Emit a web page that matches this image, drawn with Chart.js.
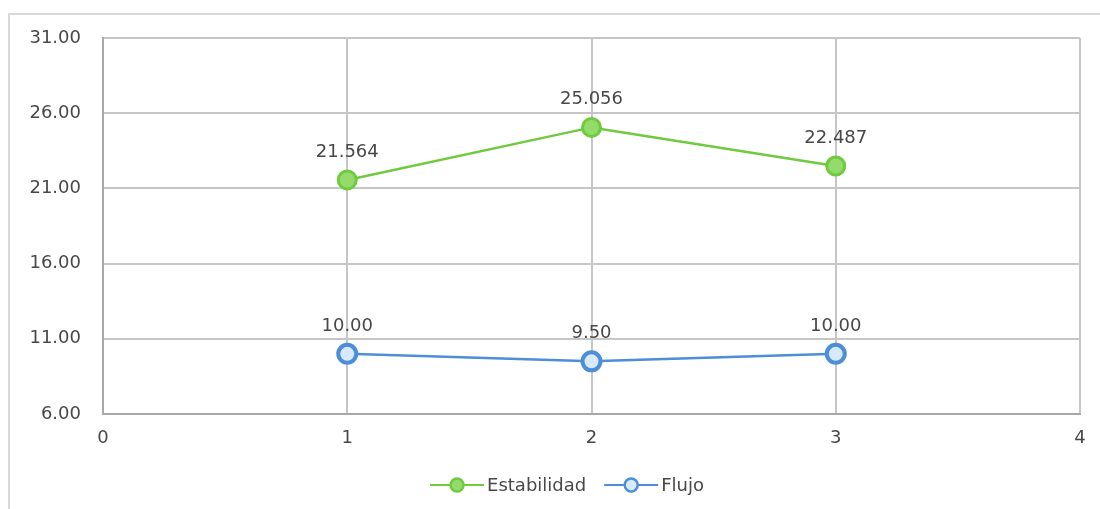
<!DOCTYPE html>
<html>
<head>
<meta charset="utf-8">
<script src="https://cdn.jsdelivr.net/npm/chart.js@4.4.1/dist/chart.umd.min.js"></script>
<style>
  html, body { margin: 0; padding: 0; background: #ffffff; }
  #wrap { position: relative; width: 1100px; height: 509px; overflow: hidden; }
  #frame { position: absolute; left: 8px; top: 13px; width: 1200px; height: 600px;
           border-left: 2px solid #d9d9d9; border-top: 2px solid #d9d9d9; }
  canvas { position: absolute; left: 0; top: 0; }
</style>
</head>
<body>
<div id="wrap">
  <div id="frame"></div>
  <canvas id="c" width="1100" height="509"></canvas>
</div>
<script>
// Sample numbers on the x axis and measured values
const samples = [1, 2, 3];
const estabilidad = [21.564, 25.056, 22.487];
const flujo = [10.00, 9.50, 10.00];
const estabilidadLabels = ['21.564', '25.056', '22.487'];
const flujoLabels = ['10.00', '9.50', '10.00'];
const seriesNames = ['Estabilidad', 'Flujo'];
const yTicks = [6, 11, 16, 21, 26, 31];
const xTicks = [0, 1, 2, 3, 4];

const GREEN = '#6fca3e';
const GREEN_FILL = '#93dc6a';
const BLUE = '#4a8fd8';
const BLUE_FILL = '#d7e9fa';
const FONT = "'DejaVu Sans', sans-serif";
const TEXT = '#484848';
const FONT_SIZE = 18;

function toPoints(xs, ys) { return xs.map((x, i) => ({ x: x, y: ys[i] })); }

// Value labels above each marker
const valueLabels = {
  id: 'valueLabels',
  afterDatasetsDraw(chart) {
    const ctx = chart.ctx;
    ctx.save();
    ctx.font = FONT_SIZE + 'px ' + FONT;
    ctx.fillStyle = TEXT;
    ctx.textAlign = 'center';
    ctx.textBaseline = 'middle';
    chart.data.datasets.forEach((ds, di) => {
      const meta = chart.getDatasetMeta(di);
      meta.data.forEach((pt, i) => {
        ctx.fillText(ds.valueText[i], pt.x, pt.y - 28);
      });
    });
    ctx.restore();
  }
};

// Legend drawn as line–marker–line samples
const lineLegend = {
  id: 'lineLegend',
  afterDraw(chart) {
    const ctx = chart.ctx;
    ctx.save();
    ctx.font = FONT_SIZE + 'px ' + FONT;
    ctx.textBaseline = 'middle';
    const y = 485;
    const items = chart.data.datasets.map(ds => ({
      text: ds.label, color: ds.borderColor, fill: ds.pointBackgroundColor
    }));
    const sampleW = 54, gap = 3, spacing = 18;
    let total = 0;
    items.forEach((it, i) => {
      total += sampleW + gap + ctx.measureText(it.text).width + (i ? spacing : 0);
    });
    let x = 567 - total / 2;
    items.forEach((it, i) => {
      if (i) x += spacing;
      ctx.strokeStyle = it.color;
      ctx.lineWidth = 2;
      ctx.beginPath(); ctx.moveTo(x, y); ctx.lineTo(x + sampleW, y); ctx.stroke();
      ctx.beginPath(); ctx.arc(x + sampleW / 2, y, 6.5, 0, Math.PI * 2);
      ctx.fillStyle = it.fill; ctx.fill();
      ctx.lineWidth = 2.5; ctx.stroke();
      x += sampleW + gap;
      ctx.fillStyle = TEXT;
      ctx.textAlign = 'left';
      ctx.fillText(it.text, x, y + 1);
      x += ctx.measureText(it.text).width;
    });
    ctx.restore();
  }
};

new Chart(document.getElementById('c'), {
  type: 'line',
  data: {
    datasets: [
      {
        label: seriesNames[0],
        data: toPoints(samples, estabilidad),
        valueText: estabilidadLabels,
        borderColor: GREEN,
        backgroundColor: GREEN,
        borderWidth: 2.5,
        pointRadius: 9,
        pointBorderWidth: 3,
        pointBackgroundColor: GREEN_FILL,
        pointBorderColor: GREEN,
        tension: 0
      },
      {
        label: seriesNames[1],
        data: toPoints(samples, flujo),
        valueText: flujoLabels,
        borderColor: BLUE,
        backgroundColor: BLUE,
        borderWidth: 2.5,
        pointRadius: 9,
        pointBorderWidth: 4,
        pointBackgroundColor: BLUE_FILL,
        pointBorderColor: BLUE,
        tension: 0
      }
    ]
  },
  options: {
    responsive: false,
    animation: false,
    layout: { padding: { left: 0, right: 20, top: 38, bottom: 0 } },
    plugins: { legend: { display: false }, tooltip: { enabled: false } },
    scales: {
      x: {
        type: 'linear',
        min: 0, max: 4,
        afterBuildTicks(scale) { scale.ticks = xTicks.map(v => ({ value: v })); },
        afterFit(scale) { scale.height = 509 - 414; },
        grid: { color: '#c6c6c6', lineWidth: 2, drawTicks: false },
        border: { color: '#a8a8a8', width: 2 },
        ticks: { padding: 14, color: TEXT, font: { family: FONT, size: FONT_SIZE },
                 callback: v => String(v) }
      },
      y: {
        min: 6, max: 31,
        afterBuildTicks(scale) { scale.ticks = yTicks.map(v => ({ value: v })); },
        afterFit(scale) { scale.width = 103; },
        grid: { color: '#c6c6c6', lineWidth: 2, drawTicks: false },
        border: { color: '#a8a8a8', width: 2 },
        ticks: { padding: 22, color: TEXT, font: { family: FONT, size: FONT_SIZE },
                 callback: v => v.toFixed(2) }
      }
    }
  },
  plugins: [valueLabels, lineLegend]
});
</script>
</body>
</html>
